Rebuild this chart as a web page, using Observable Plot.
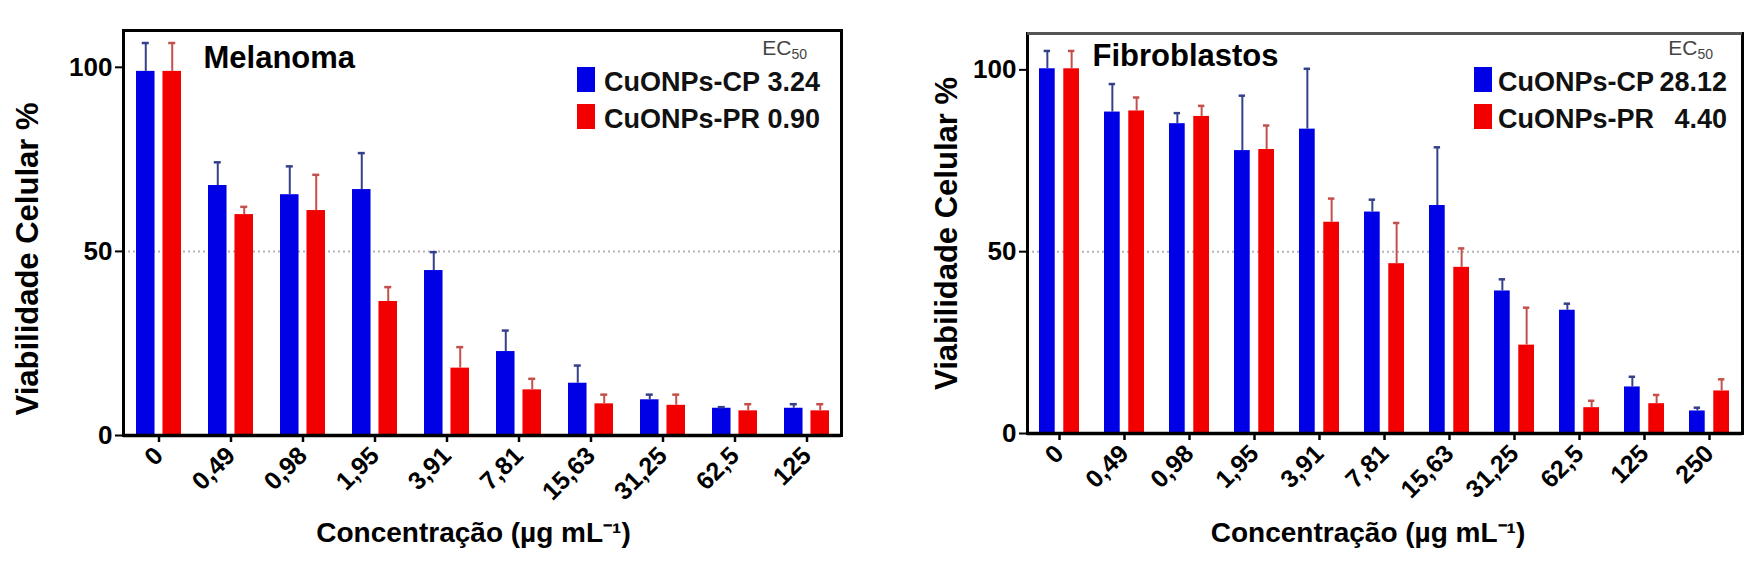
<!DOCTYPE html>
<html>
<head>
<meta charset="utf-8">
<script src="https://cdn.jsdelivr.net/npm/d3@7"></script>
<script src="https://cdn.jsdelivr.net/npm/@observablehq/plot@0.6"></script>
<style>
  html, body { margin: 0; padding: 0; background: #fff; }
  #wrap { position: relative; width: 1756px; height: 566px; overflow: hidden; font-family: "Liberation Sans", Arial, sans-serif; }
  .panel { position: absolute; top: 0; }
  .lg { position: absolute; line-height: 1; white-space: nowrap; }
  .sw { position: absolute; }
  .name { font-weight: bold; font-size: 27px; color: #111; }
  .ec { font-size: 21px; color: #444; }
  .ec sub { font-size: 14px; vertical-align: -4px; }
</style>
</head>
<body>
<div id="wrap"></div>
<script>
// ---------- Data ----------
const concMel = ["0", "0,49", "0,98", "1,95", "3,91", "7,81", "15,63", "31,25", "62,5", "125"];
const melCP    = [98.9, 67.9, 65.4, 66.8, 44.8, 22.8, 14.2, 9.7, 7.4, 7.4];
const melCPerr = [7.7, 6.3, 7.7, 9.9, 5.0, 5.7, 4.8, 1.4, 0.3, 1.1];
const melPR    = [98.9, 60.0, 61.1, 36.4, 18.3, 12.4, 8.6, 8.2, 6.7, 6.7];
const melPRerr = [7.7, 2.1, 9.7, 3.9, 5.7, 3.0, 2.5, 2.9, 1.8, 1.8];

const concFib = ["0", "0,49", "0,98", "1,95", "3,91", "7,81", "15,63", "31,25", "62,5", "125", "250"];
const fibCP    = [100.3, 88.4, 85.2, 77.8, 83.7, 60.9, 62.7, 39.2, 33.9, 12.8, 6.2];
const fibCPerr = [4.9, 7.7, 2.9, 15.1, 16.6, 3.4, 16.0, 3.2, 1.8, 2.8, 0.9];
const fibPR    = [100.3, 88.7, 87.2, 78.1, 58.1, 46.7, 45.7, 24.3, 7.1, 8.2, 11.7];
const fibPRerr = [4.9, 3.7, 2.9, 6.6, 6.5, 11.2, 5.2, 10.3, 1.9, 2.4, 3.2];

const seriesNames = ["CuONPs-CP", "CuONPs-PR"];
const ecMel = ["3.24", "0.90"];
const ecFib = ["28.12", "4.40"];
const yTicks = [0, 50, 100];
const yTitle = "Viabilidade Celular %";
const xTitle = "Concentração (µg mL⁻¹)";

const BLUE = "#0000e6", RED = "#f20000";
const BLUE_ERR = "#35408a", RED_ERR = "#c4504c";

function rows(conc, v, e) { return conc.map((c, i) => ({c, v: v[i], top: v[i] + e[i]})); }

function panel(o) {
  const n = o.conc.length;
  const inner = o.width - o.ml - o.mr;
  const step = inner / (n - o.pi + 2 * o.po);
  const bw = step * (1 - o.pi);
  const bW = o.barW, capW = 7;
  const cp = rows(o.conc, o.cp, o.cpErr);
  const pr = rows(o.conc, o.pr, o.prErr);
  const dxB = bW / 2 - bw / 2, dxR = bw / 2 - bW / 2;
  const marks = [
    Plot.ruleY([50], {stroke: "#b4b4b4", strokeWidth: 2, strokeDasharray: "2,3"}),
    Plot.barY(cp, {x: "c", y: "v", fill: BLUE, insetRight: bw - bW}),
    Plot.barY(pr, {x: "c", y: "v", fill: RED, insetLeft: bw - bW}),
    Plot.ruleX(cp, {x: "c", y1: "v", y2: "top", dx: dxB, stroke: BLUE_ERR, strokeWidth: 2}),
    Plot.ruleX(pr, {x: "c", y1: "v", y2: "top", dx: dxR, stroke: RED_ERR, strokeWidth: 2}),
    Plot.tickY(cp, {x: "c", y: "top", stroke: BLUE_ERR, strokeWidth: 2.5,
      insetLeft: bW / 2 - capW / 2, insetRight: bw - bW / 2 - capW / 2}),
    Plot.tickY(pr, {x: "c", y: "top", stroke: RED_ERR, strokeWidth: 2.5,
      insetLeft: bw - bW / 2 - capW / 2, insetRight: bW / 2 - capW / 2}),
    Plot.frame({stroke: "#000", strokeWidth: 3}),
  ];
  if (o.topColor) marks.push(Plot.ruleY([110], {stroke: o.topColor, strokeWidth: 3}));
  marks.push(
    Plot.ruleY([0], {stroke: "#000", strokeWidth: 3.5}),
    Plot.axisY({ticks: yTicks, tickSize: 8, tickPadding: 3, fontSize: 26, strokeWidth: 2, label: null}),
    Plot.axisX({tickRotate: -45, tickSize: 7, tickPadding: 9, fontSize: 25, strokeWidth: 2.5, label: null}),
    Plot.text([o.title], {text: d => d, frameAnchor: "top-left", dx: o.titleDx, dy: o.titleDy,
      fontSize: 31, lineAnchor: "top", textAnchor: "start"}),
    Plot.text([yTitle], {text: d => d, frameAnchor: "left", rotate: -90, dx: o.yDx, dy: o.yDy,
      fontSize: 31, lineAnchor: "middle", textAnchor: "middle"}),
    Plot.text([xTitle], {text: d => d, frameAnchor: "bottom", dx: o.xDx, dy: o.xDy,
      fontSize: 28, lineAnchor: "middle", textAnchor: "middle"})
  );
  return Plot.plot({
    width: o.width, height: 566,
    marginLeft: o.ml, marginRight: o.mr, marginTop: o.mt, marginBottom: o.mb,
    x: {domain: o.conc, paddingInner: o.pi, paddingOuter: o.po, axis: null},
    y: {domain: [0, 110], axis: null},
    style: {fontFamily: "'Liberation Sans', Arial, sans-serif", fontWeight: "bold", color: "#000", background: "transparent", overflow: "visible"},
    marks
  });
}

const wrap = document.getElementById("wrap");

const left = panel({
  conc: concMel, cp: melCP, cpErr: melCPerr, pr: melPR, prErr: melPRerr,
  title: "Melanoma", width: 876, ml: 123, mr: 35, mt: 30, mb: 131,
  pi: 0.378, po: 0.154, barW: 18.5,
  titleDx: 80, titleDy: 15, yDx: -95, yDy: 26, xDx: -9, xDy: 98
});
left.classList.add("panel"); left.style.left = "0px";
wrap.appendChild(left);

const right = panel({
  conc: concFib, cp: fibCP, cpErr: fibCPerr, pr: fibPR, prErr: fibPRerr,
  title: "Fibroblastos", width: 880, ml: 151, mr: 14, mt: 33, mb: 133,
  pi: 0.381, po: 0.143, barW: 16.3, topColor: "#555",
  titleDx: 65, titleDy: 10, yDx: -80, yDy: 0, xDx: -17, xDy: 100
});
right.classList.add("panel"); right.style.left = "876px";
wrap.appendChild(right);

// ---------- In-plot legends (HTML overlay) ----------
function legend(x0, nameX, valueRight, ecRight, values) {
  const add = (html, css, cls) => {
    const d = document.createElement("div");
    d.className = cls; d.innerHTML = html; Object.assign(d.style, css); wrap.appendChild(d);
  };
  add("EC<sub>50</sub>", {right: (1756 - ecRight) + "px", top: "37px"}, "lg ec");
  const colors = [BLUE, RED];
  const swTop = [67, 104], txtTop = [69, 105.5];
  seriesNames.forEach((s, i) => {
    add("", {left: x0 + "px", top: swTop[i] + "px", width: "18px", height: "25px", background: colors[i]}, "sw");
    add(s, {left: nameX + "px", top: txtTop[i] + "px"}, "lg name");
    add(values[i], {right: (1756 - valueRight) + "px", top: txtTop[i] + "px"}, "lg name");
  });
}
legend(577, 604, 820, 807, ecMel);
legend(1474, 1498, 1727, 1713, ecFib);
</script>
</body>
</html>
